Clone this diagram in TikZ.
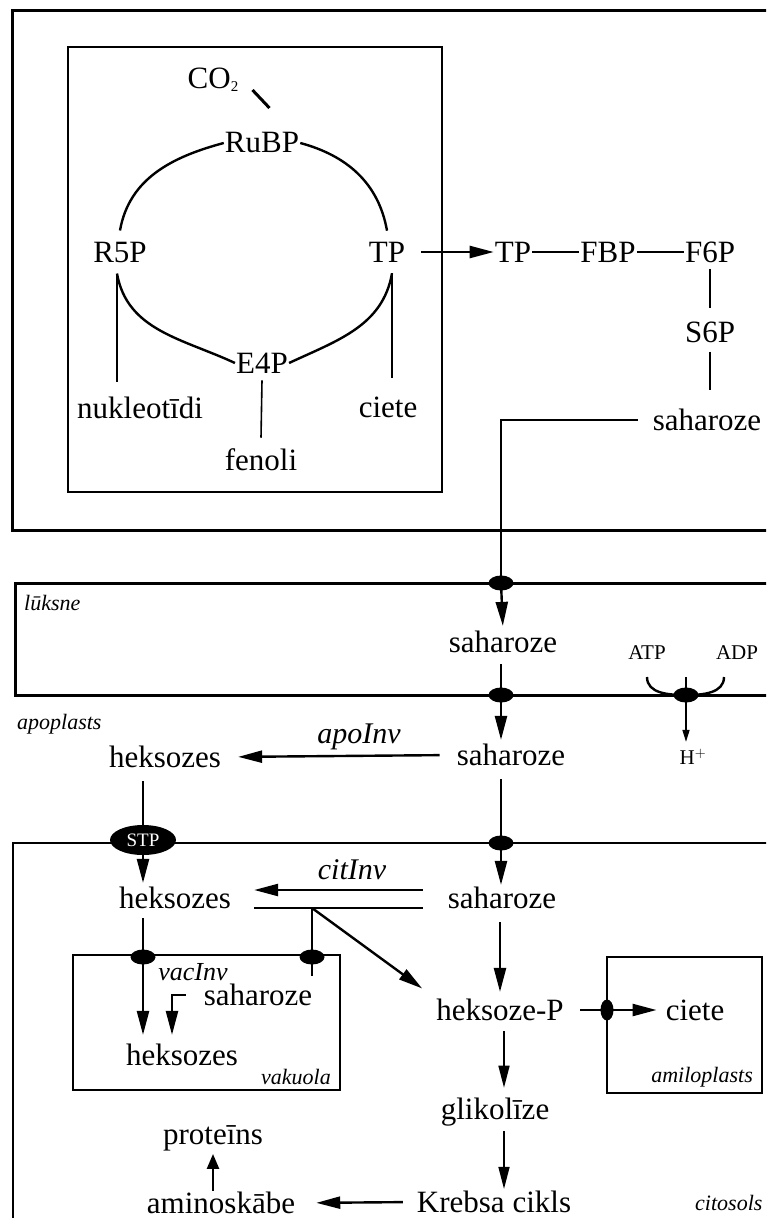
\documentclass[tikz,border=0pt]{standalone}
\usepackage{fontspec}
\setmainfont{Liberation Serif}
\usetikzlibrary{arrows.meta,positioning,calc,shapes.geometric}

\begin{document}
\begin{tikzpicture}[x=1pt, y=-1pt,
    >={Triangle[length=24pt,width=12pt]},
    txt/.style={font=\fontsize{31}{33}\selectfont, inner sep=1pt},
    sm/.style={font=\fontsize{22}{24}\selectfont\itshape, inner sep=0pt},
    enz/.style={font=\fontsize{30}{32}\selectfont\itshape, inner sep=0pt},
    chem/.style={font=\fontsize{21}{23}\selectfont, inner sep=1pt},
    ln/.style={line width=2.4pt},
    thn/.style={line width=1.6pt},
    arr/.style={->, line width=2.4pt},
    pump/.style={ellipse, fill=black, inner sep=0pt,
                 minimum width=25pt, minimum height=15pt},
    wall/.style={line width=3pt},
  ]
  \useasboundingbox (0,0) rectangle (766,1218);
  \clip (0,0) rectangle (766,1218);

  % membranes
  \draw[wall] (790,10) -- (12,10) -- (12,530) -- (790,530);
  \draw[ln] (68,47) rectangle (442,492);
  \draw[wall] (790,583) -- (15,583) -- (15,695) -- (790,695);
  \draw[ln] (790,843) -- (13,843) -- (13,1240);
  \draw[ln] (73,955) rectangle (340,1090);
  \draw[ln] (607,957) rectangle (762,1093);

  % Calvin cycle
  \node[txt] (co2) at (213,80) {CO\raisebox{-3pt}{\fontsize{15}{15}\selectfont 2}};
  \node[txt] (rubp) at (262,143) {RuBP};
  \node[txt] (r5p) at (120,252) {R5P};
  \node[txt] (tp) at (387,252) {TP};
  \node[txt] (e4p) at (262,363) {E4P};
  \node[txt] (nukl) at (140,408) {nukleotīdi};
  \node[txt] (fenoli) at (261,460) {fenoli};
  \node[txt] (ciete1) at (388,407) {ciete};

  \draw[line width=3pt] ([shift={(13pt,-10pt)}]co2.east) -- ++(17,18);
  \draw[ln] (rubp.west) to[out=195,in=80] ([yshift=10pt]r5p.north);
  \draw[ln] (rubp.east) to[out=-15,in=100] ([yshift=10pt]tp.north);
  \draw[ln] ([shift={(-3pt,-10pt)}]r5p.south) to[out=-80,in=155] (e4p.west);
  \draw[ln] (e4p.east) to[out=25,in=-100] ([shift={(5pt,-10pt)}]tp.south);
  \draw[ln] ([shift={(-3pt,-10pt)}]r5p.south) -- ++(0,108);
  \draw[ln] ([shift={(5pt,-10pt)}]tp.south) -- ++(0,105);
  \draw[thn] ([yshift=-6pt]e4p.south) -- ([yshift=10pt]fenoli.north);

  % sucrose synthesis
  \node[txt] (tp2) at (513,252) {TP};
  \node[txt, right=47 of tp2] (fbp) {FBP};
  \node[txt, right=47 of fbp] (f6p) {F6P};
  \node[txt] (s6p) at (f6p |- 0,332) {S6P};
  \node[txt] (sah1) at (707,420) {saharoze};

  \draw[arr] (tp.east) -- (tp2.west) [shorten <=15pt];
  \draw[ln] (tp2) -- (fbp);
  \draw[ln] (fbp) -- (f6p);
  \draw[ln, shorten <=5pt, shorten >=12pt] (f6p.south) -- (s6p.north);
  \draw[thn, shorten <=8pt, shorten >=18pt] (s6p.south) -- (s6p.south |- sah1.north);

  % phloem
  \node[pump] (d1) at (501,583) {};
  \node[pump] (d2) at (501,695) {};
  \node[txt] (sah2) at (503,642) {saharoze};
  \node[txt] (sah3) at (511,755) {saharoze};
  \node[txt] (hex1) at (165,757) {heksozes};
  \node[chem] (atp) at (647,653) {ATP};
  \node[chem] (adp) at (737,653) {ADP};
  \node[pump] (d3) at (686,695) {};
  \node[chem] (hplus) at (693,757) {H$^{+}$};

  \draw[ln, shorten <=14pt] (sah1.west) -| (d1.center);
  \draw[arr] (d1.center) -- (sah2.north) [shorten >=4pt];
  \draw[arr] ([yshift=-10pt]sah2.south -| d2) -- (sah3.north -| d2) [shorten >=3pt];
  \draw[arr, shorten <=16pt, shorten >=16pt] (sah3.west) -- (hex1.east);
  \draw[ln] (647,677) to[out=-90,in=180] (d3.center) to[out=0,in=-90] (724,677);
  \draw[thn, -{Triangle[length=12pt,width=7pt]}]
    ([yshift=18pt]d3.center) -- (d3 |- hplus.north) [shorten >=6pt];

  % annotations
  \node[sm, anchor=west] (luksne) at (24,603) {lūksne};
  \node[sm, anchor=west] (apopl) at (17,724) {apoplasts};
  \node[enz] (apoinv) at (359,737) {apoInv};

  % cytosol
  \node[pump, minimum width=66pt, minimum height=30pt, font=\fontsize{19}{20}\selectfont,
        text=white] (stp) at (143,840) {STP};
  \node[pump] (d4) at (501,843) {};
  \node[txt] (sah4) at (502,898) {saharoze};
  \node[txt] (hex2) at (175,898) {heksozes};
  \node[txt] (hexp) at (500,1010) {heksoze-P};
  \node[txt] (ciete2) at (695,1010) {ciete};
  \node[pump, minimum width=13pt, minimum height=21pt] (d7) at (607,1010) {};
  \node[txt] (glik) at (495,1112) {glikolīze};
  \node[txt] (krebs) at (494,1202) {Krebsa cikls};
  \node[txt] (amino) at (221,1203) {aminoskābe};
  \node[txt] (prot) at (213,1138) {proteīns};
  \node[enz] (citinv) at (352,870) {citInv};

  \draw[thn] (stp |- hex1.south) -- (stp.north) [shorten <=12pt];
  \draw[arr] (stp.south) -- (stp |- hex2.north) [shorten >=3pt];
  \draw[arr] ([yshift=-12pt]d4 |- sah3.south) -- (d4 |- sah4.north) [shorten >=1pt];
  \draw[arr, shorten <=24pt, shorten >=22pt] ([yshift=8pt]sah4.west) -- ([yshift=8pt]hex2.east);
  \draw[ln, shorten <=22pt, shorten >=24pt] ([yshift=-10pt]hex2.east) -- ([yshift=-10pt]sah4.west);
  \coordinate (br) at (312,908);
  \draw[arr, shorten >=16pt] (br) -- (hexp.north west);
  \draw[arr, shorten <=12pt, shorten >=6pt] (sah4.south -| hexp) -- (hexp.north);
  \draw[arr, shorten <=15pt] (hexp.east) -- (ciete2.west) [shorten >=8pt];
  \draw[thn, -{Triangle[length=22pt,width=11pt]}, shorten <=9pt, shorten >=9pt]
    ([xshift=4pt]hexp.south) -- ([xshift=4pt]hexp.south |- glik.north);
  \draw[thn, -{Triangle[length=22pt,width=11pt]}, shorten <=4pt, shorten >=1pt]
    ([xshift=4pt]hexp.south |- glik.south) -- ([xshift=4pt]hexp.south |- krebs.north);
  \draw[arr, shorten <=13pt, shorten >=20pt] (krebs.west) -- (amino.east);
  \draw[ln, -{Triangle[length=15pt,width=12pt]}, shorten >=2pt]
    (amino.north -| prot) -- (prot.south);

  % vacuole
  \node[pump] (d5) at (143,957) {};
  \node[pump] (d6) at (312,957) {};
  \node[txt] (sah5) at (258,995) {saharoze};
  \node[txt] (hex3) at (182,1055) {heksozes};
  \node[enz, font=\fontsize{26}{28}\selectfont\itshape] (vacinv) at (193,972) {vacInv};

  \draw[ln] (br) -- (br |- sah5.north) [shorten >=7pt];
  \draw[thn] (d5 |- hex2.south) -- (d5.center) [shorten <=8pt];
  \draw[arr] (d5.center) -- (d5 |- hex3.north) [shorten >=8pt];
  \draw[arr] ([xshift=-17pt]sah5.west) -| ([xshift=-10pt]hex3.north) [shorten >=8pt];

  \node[sm, anchor=east] (vakuola) at (331,1077) {vakuola};
  \node[sm, anchor=east] (amilo) at (753,1077) {amiloplasts};
  \node[sm, anchor=west] (citosols) at (695,1203) {citosols};
\end{tikzpicture}
\end{document}
